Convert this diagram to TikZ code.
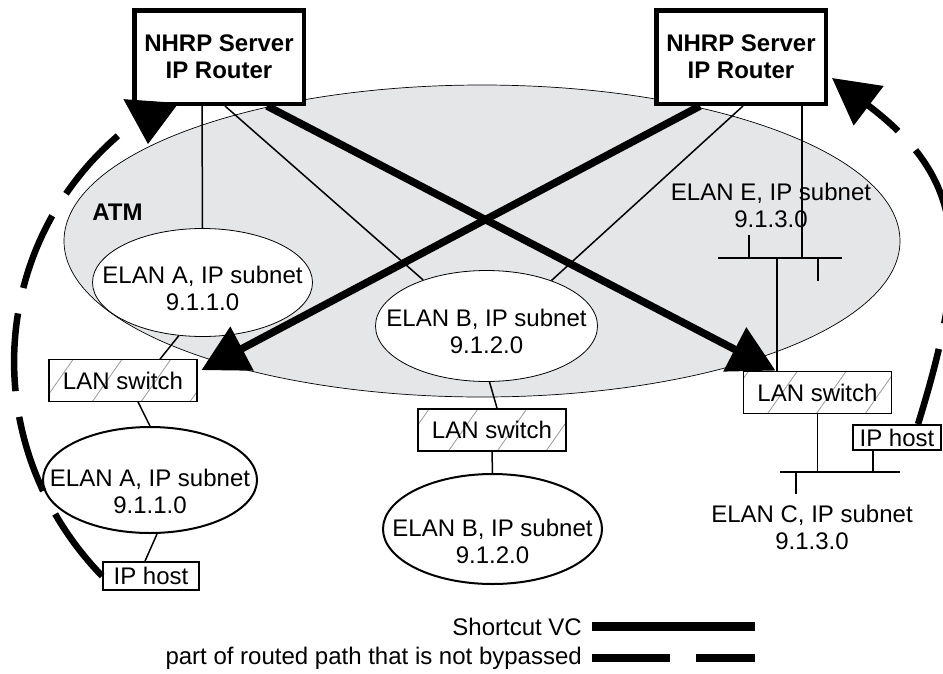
\documentclass[tikz,border=0pt]{standalone}
\usepackage{fontspec}
\setmainfont{Liberation Sans}
\usetikzlibrary{shapes.geometric,arrows.meta,patterns.meta,calc}

\definecolor{atmgray}{RGB}{229,230,232}

\begin{document}
\begin{tikzpicture}[x=1pt, y=-1pt, inner sep=0pt,
  font=\fontsize{24}{27}\selectfont,
  router/.style={draw, fill=white, line width=4.5pt, minimum width=169.5pt,
    minimum height=93.5pt, align=center,
    font=\fontsize{24}{27}\selectfont\bfseries},
  lanswitch/.style={draw, line width=1.8pt, minimum width=148pt, minimum height=42pt,
    pattern={Lines[angle=55, distance=40pt, line width=0.8pt]}, pattern color=black!40},
  iphost/.style={draw, fill=white, line width=1.8pt, minimum height=28pt},
  elan/.style={ellipse, draw, fill=white, line width=0.8pt, inner xsep=-30pt,
    inner ysep=0pt, align=center},
  elanout/.style={elan, line width=2pt},
  link/.style={line width=1.5pt},
  shortvc/.style={line width=7.5pt},
  routed/.style={line width=6.5pt, dash pattern=on 78pt off 26pt},
  bigtip/.style={-{Triangle[length=46pt, width=48pt]}}
]
  \useasboundingbox (0,0) rectangle (943,673);
  \clip (0,0) rectangle (943,673);

  %-----------------------------
  % The ATM network
  \draw[fill=atmgray, line width=0.7pt] (482,241) ellipse [x radius=418, y radius=156];
  \node[font=\fontsize{24}{27}\selectfont\bfseries] (atm) at (117.5,212.5) {ATM};

  %-----------------------------
  % Routers, ELANs, switches and hosts
  \node[router] (rA) at (219,57) {NHRP Server\\IP Router};
  \node[router] (rE) at (741,57) {NHRP Server\\IP Router};

  \node[elan, minimum width=220pt, minimum height=108pt] (elanA) at (202.5,282.5)
       {\rule{0pt}{29pt}ELAN A, IP subnet\\9.1.1.0};
  \node[elan, minimum width=222pt, minimum height=111pt] (elanB) at (486.5,326)
       {\rule{0pt}{28pt}ELAN B, IP subnet\\9.1.2.0};
  \node[align=center] (elanE) at (771,205) {ELAN E, IP subnet\\9.1.3.0};

  \node[lanswitch] (lanA) at (123,380.5) {LAN switch};
  \node[lanswitch] (lanB) at (492,430) {LAN switch};
  \node[lanswitch] (lanC) at (817.5,392.5) {LAN switch};

  \node[elanout, minimum width=214pt, minimum height=106pt] (elanA2) at (150,480)
       {\rule{0pt}{40pt}ELAN A, IP subnet\\9.1.1.0};
  \node[elanout, minimum width=219pt, minimum height=110pt] (elanB2) at (492.5,529)
       {\rule{0pt}{43pt}ELAN B, IP subnet\\9.1.2.0};
  \node[align=center] (elanC) at (812,527) {ELAN C, IP subnet\\9.1.3.0};

  \node[iphost, minimum width=96pt] (hostA) at (151,576) {IP host};
  \node[iphost, minimum width=88pt, minimum height=25pt] (hostC) at (897,437.5) {IP host};

  %-----------------------------
  % Bus of ELAN E and bus of ELAN C
  \coordinate (busEl) at (718,258);
  \coordinate (busEr) at (842,258);
  \coordinate (eDrop) at (802,258);
  \coordinate (eSw) at (777,258);
  \draw[link] (busEl) -- (busEr);
  \draw[link] (749,258) -- ++(0,-23);
  \draw[link] (818,258) -- ++(0,23);

  \coordinate (busCl) at (780,472);
  \coordinate (busCr) at (900,472);
  \coordinate (cHost) at (873,472);
  \draw[link] (busCl) -- (busCr);
  \draw[link] (796,472) -- ++(0,22);

  %-----------------------------
  % Thin links
  \draw[link] ($(rA.south)+(-17,0)$) -- (elanA.north);
  \draw[link] ($(rA.south)+(6,0)$) -- (elanB.144);
  \draw[link] ($(rE.south)+(2,0)$) -- (elanB.35);
  \draw[link] (rE.south -| eDrop) -- (eDrop);
  \draw[link] (eSw) -- (eSw |- lanC.north);
  \draw[link] (elanA.-114) -- ($(lanA.north)+(37,0)$);
  \draw[link] ($(lanA.south)+(15,0)$) -- (elanA2.north);
  \draw[link] ($(elanA2.south)+(7,0)$) -- ($(hostA.north)+(-6,0)$);
  \draw[link] ($(elanB.south)+(3,0)$) -- ($(lanB.north)+(5,0)$);
  \draw[link] (lanB.south) -- (elanB2.north);
  \draw[link] (lanC.south) -- (lanC.south |- busCl);
  \draw[link] (cHost) -- (cHost |- hostC.south);

  %-----------------------------
  % Shortcut VCs
  \draw[shortvc, bigtip] ($(rA.south)+(48,0)$) -- (lanC);
  \draw[shortvc, bigtip] ($(rE.south)+(-41,0)$) -- ($(lanA.north east)+(4,11)$);

  %-----------------------------
  % Routed paths that are not bypassed
  \coordinate (rAback) at ($(rA.south west)+(-12,28)$);
  \draw[routed] (hostA.west) .. controls +(-123,-127) and +(-135,115) .. (rAback);
  \draw[line width=1pt, -{Triangle[length=43pt, width=55pt]}]
       ($(rA.south west)+(19,-5)$) -- ($(rA.south west)+(16,38)$);
  \draw[routed, -{Triangle[length=46pt, width=48pt]}]
       ($(hostC.north)+(21,0)$) .. controls +(54,-174) and +(132,100) .. ($(rE.east)+(4,21)$);

  %-----------------------------
  % Legend
  \node[anchor=base east] (lgShort) at (582,635) {Shortcut VC};
  \node[anchor=base east] (lgRouted) at (582,664) {part of routed path that is not bypassed};
  \draw[shortvc, line width=8.5pt] ([xshift=10pt]lgShort.east) -- ++(163,0);
  \draw[routed, line width=8.5pt] ([xshift=10pt]lgRouted.east) -- ++(163,0);
\end{tikzpicture}
\end{document}
